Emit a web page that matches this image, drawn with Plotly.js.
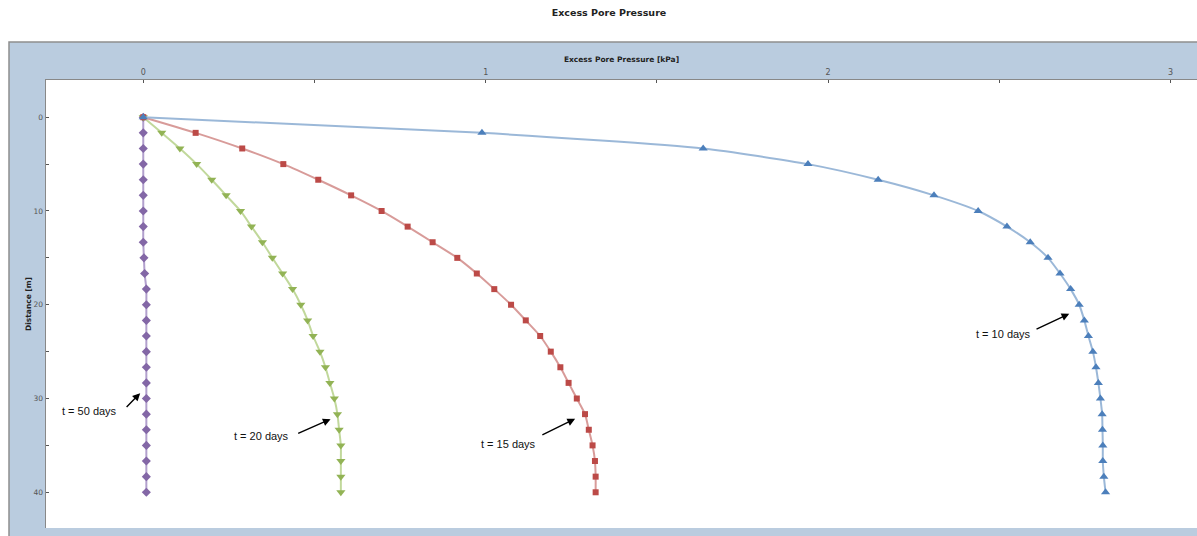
<!DOCTYPE html>
<html>
<head>
<meta charset="utf-8">
<script src="https://cdn.plot.ly/plotly-3.0.1.min.js"></script>
<style>html,body{margin:0;padding:0;background:#fff;}#chart{width:1197px;height:536px;}</style>
</head>
<body>
<div id="chart"></div>
<script>
// Depth below surface [m]
const depth = [0, 1.667, 3.333, 5, 6.667, 8.333, 10, 11.667, 13.333, 15, 16.667, 18.333, 20,
  21.667, 23.333, 25, 26.667, 28.333, 30, 31.667, 33.333, 35, 36.667, 38.333, 40];
// Excess pore pressure [kPa]
const u10 = [0, 0.989, 1.635, 1.941, 2.146, 2.309, 2.438, 2.522, 2.590, 2.642, 2.677, 2.708, 2.733,
  2.748, 2.760, 2.773, 2.782, 2.789, 2.795, 2.800, 2.801, 2.802, 2.802, 2.805, 2.810];
const u15 = [0, 0.153, 0.289, 0.409, 0.511, 0.607, 0.696, 0.772, 0.845, 0.917, 0.974, 1.025, 1.074,
  1.117, 1.159, 1.190, 1.218, 1.242, 1.266, 1.290, 1.301, 1.312, 1.319, 1.321, 1.321];
const u20 = [0, 0.054, 0.107, 0.156, 0.200, 0.242, 0.284, 0.316, 0.348, 0.377, 0.407, 0.436, 0.460,
  0.480, 0.496, 0.516, 0.532, 0.545, 0.558, 0.567, 0.572, 0.577, 0.577, 0.577, 0.577];
const u50 = [0, 0, 0, 0, 0, 0, 0, 0, 0, 0.002, 0.004, 0.009, 0.009,
  0.009, 0.009, 0.009, 0.009, 0.009, 0.009, 0.009, 0.009, 0.009, 0.009, 0.009, 0.009];

const xTickVals = [0, 0.5, 1, 1.5, 2, 2.5, 3];
const xTickText = ['0', '', '1', '', '2', '', '3'];
const yTickVals = [0, 5, 10, 15, 20, 25, 30, 35, 40];
const yTickText = ['0', '', '10', '', '20', '', '30', '', '40'];

// Curve labels: text, text anchor (kPa, m), arrow tail (kPa, m), arrow head (kPa, m)
const labelText = ['t = 10 days', 't = 15 days', 't = 20 days', 't = 50 days'];
const labelX = [2.511, 1.067, 0.344, -0.157];
const labelY = [23.09, 34.84, 33.98, 31.32];
const tailX = [2.604, 1.161, 0.448, -0.053];
const tailY = [22.67, 33.95, 33.80, 31.07];
const headX = [2.704, 1.261, 0.547, -0.009];
const headY = [20.96, 32.17, 32.20, 29.43];

function series(x, lineColor, markerColor, symbol, size) {
  return {
    x: x, y: depth, type: 'scatter', mode: 'lines+markers',
    line: {color: lineColor, width: 2, shape: 'spline', smoothing: 0.6},
    marker: {color: markerColor, symbol: symbol, size: size, line: {width: 0}},
    hoverinfo: 'x+y', showlegend: false
  };
}

const traces = [
  series(u50, 'rgba(170,150,200,0.9)', '#8367A6', 'diamond', 7),
  series(u20, 'rgba(190,214,150,0.95)', '#92B355', 'triangle-down', 8),
  series(u15, 'rgba(214,150,148,0.95)', '#BC4A47', 'square', 6),
  series(u10, 'rgba(150,180,214,0.95)', '#4C7FBB', 'triangle-up', 8)
];

const annotations = [];
for (let i = 0; i < labelText.length; i++) {
  annotations.push({
    x: labelX[i], y: labelY[i], xref: 'x', yref: 'y', text: labelText[i], showarrow: false,
    font: {family: 'Liberation Sans, Arial, sans-serif', size: 11, color: '#111'}
  });
  annotations.push({
    x: headX[i], y: headY[i], xref: 'x', yref: 'y', ax: tailX[i], ay: tailY[i], axref: 'x', ayref: 'y',
    text: ' ', showarrow: true, arrowhead: 2, arrowsize: 1.1, arrowwidth: 1.4, arrowcolor: '#000',
    standoff: 0, startstandoff: 0, font: {size: 1}
  });
}

const W = 1197, H = 536, L = 46, R = 0, T = 80, B = 8;
const pw = W - L - R, ph = H - T - B;
function px(xp) { return (xp - L) / pw; }
function py(yp) { return (H - B - yp) / ph; }

const layout = {
  width: W, height: H,
  margin: {l: L, r: R, t: T, b: B, pad: 0},
  paper_bgcolor: '#ffffff', plot_bgcolor: 'rgba(0,0,0,0)',
  title: {text: '<b>Excess Pore Pressure</b>', x: 609 / W, xanchor: 'center', y: 1 - 13 / H, yanchor: 'middle',
    font: {family: 'DejaVu Sans, Verdana, sans-serif', size: 9.5, color: '#222'}},
  xaxis: {
    side: 'top', range: [-0.284, 3.077], showgrid: false, zeroline: false,
    showline: true, linecolor: '#888', linewidth: 1.5,
    tickmode: 'array', tickvals: xTickVals, ticktext: xTickText,
    ticks: 'inside', ticklen: 3, tickcolor: '#555', tickwidth: 1,
    tickfont: {family: 'DejaVu Sans, Verdana, sans-serif', size: 8, color: '#555'},
    title: {text: '<b>Excess Pore Pressure [kPa]</b>', standoff: 4,
      font: {family: 'DejaVu Sans, Verdana, sans-serif', size: 7.5, color: '#222'}},
    fixedrange: true
  },
  yaxis: {
    range: [43.81, -3.97], showgrid: false, zeroline: false,
    showline: true, linecolor: '#888', linewidth: 1.5,
    tickmode: 'array', tickvals: yTickVals, ticktext: yTickText,
    ticks: 'inside', ticklen: 3, tickcolor: '#555', tickwidth: 1,
    tickfont: {family: 'DejaVu Sans, Verdana, sans-serif', size: 7.5, color: '#555'},
    title: {text: '<b>Distance [m]</b>', standoff: 0,
      font: {family: 'DejaVu Sans, Verdana, sans-serif', size: 7.5, color: '#222'}},
    fixedrange: true
  },
  shapes: [
    {type: 'rect', xref: 'paper', yref: 'paper', x0: px(9), x1: px(W + 5), y0: py(H + 5), y1: py(42),
      fillcolor: '#BACCDF', line: {color: '#8E8E8E', width: 1.5}, layer: 'below'},
    {type: 'rect', xref: 'paper', yref: 'paper', x0: px(46), x1: px(W + 5), y0: py(528), y1: py(80),
      fillcolor: '#ffffff', line: {width: 0}, layer: 'below'}
  ],
  annotations: annotations,
  showlegend: false
};

Plotly.newPlot('chart', traces, layout, {displayModeBar: false, staticPlot: true});
</script>
</body>
</html>
